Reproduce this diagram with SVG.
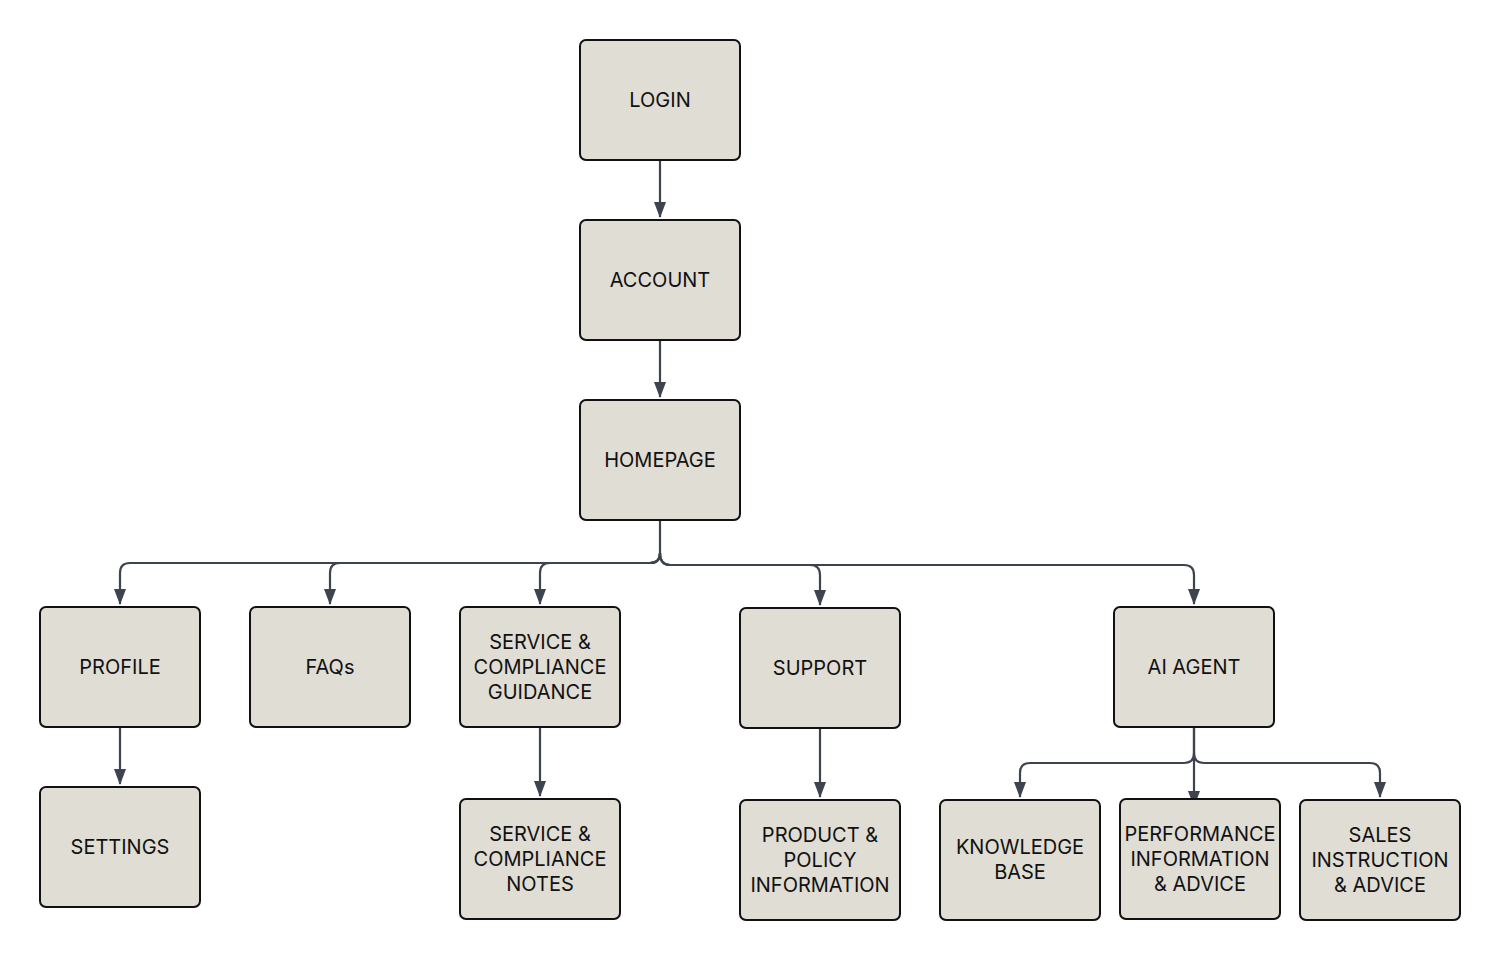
<svg xmlns="http://www.w3.org/2000/svg" width="1500" height="960" viewBox="0 0 1500 960">
<style>
.n rect{fill:#e0ddd4;stroke:#111;stroke-width:2}
.n text{font-family:Inter,"Liberation Sans",sans-serif;font-size:20px;fill:#111;text-anchor:middle;dominant-baseline:central}
.c path{fill:none;stroke:#3d4450;stroke-width:2.2}
</style>
<defs>
<marker id="a" viewBox="0 0 16 12" refX="15" refY="6" markerWidth="16" markerHeight="12" markerUnits="userSpaceOnUse" orient="auto">
<path d="M0,0 L16,6 L0,12 Z" fill="#3d4450"/>
</marker>
</defs>
<rect width="1500" height="960" fill="#fff"/>
<g class="c">
<path d="M660,160 V217" marker-end="url(#a)"/>
<path d="M660,340 V397" marker-end="url(#a)"/>
<path d="M660,520 V553 Q660,563 650,563 H130 Q120,563 120,573 V604" marker-end="url(#a)"/>
<path d="M660,553 Q660,563 650,563 H340 Q330,563 330,573 V604" marker-end="url(#a)"/>
<path d="M660,553 Q660,563 650,563 H550 Q540,563 540,573 V604" marker-end="url(#a)"/>
<path d="M660,553 Q660,565 670,565 H810 Q820,565 820,575 V605" marker-end="url(#a)"/>
<path d="M660,553 Q660,565 670,565 H1184 Q1194,565 1194,575 V604" marker-end="url(#a)"/>
<path d="M120,727 V784" marker-end="url(#a)"/>
<path d="M540,727 V796" marker-end="url(#a)"/>
<path d="M820,728 V797" marker-end="url(#a)"/>
<path d="M1194,727 V753 Q1194,763 1184,763 H1030 Q1020,763 1020,773 V797" marker-end="url(#a)"/>
<path d="M1194,727 V806" marker-end="url(#a)"/>
<path d="M1194,753 Q1194,763 1204,763 H1370 Q1380,763 1380,773 V797" marker-end="url(#a)"/>
</g>
<g id="login" class="n"><rect x="580" y="40" width="160" height="120" rx="6"/><text x="660" y="100">LOGIN</text></g>
<g id="account" class="n"><rect x="580" y="220" width="160" height="120" rx="6"/><text x="660" y="280">ACCOUNT</text></g>
<g id="homepage" class="n"><rect x="580" y="400" width="160" height="120" rx="6"/><text x="660" y="460">HOMEPAGE</text></g>
<g id="profile" class="n"><rect x="40" y="607" width="160" height="120" rx="6"/><text x="120" y="667">PROFILE</text></g>
<g id="faqs" class="n"><rect x="250" y="607" width="160" height="120" rx="6"/><text x="330" y="667">FAQs</text></g>
<g id="scguidance" class="n"><rect x="460" y="607" width="160" height="120" rx="6"/><text x="540" y="642">SERVICE &amp;</text><text x="540" y="667">COMPLIANCE</text><text x="540" y="692">GUIDANCE</text></g>
<g id="support" class="n"><rect x="740" y="608" width="160" height="120" rx="6"/><text x="820" y="668">SUPPORT</text></g>
<g id="aiagent" class="n"><rect x="1114" y="607" width="160" height="120" rx="6"/><text x="1194" y="667">AI AGENT</text></g>
<g id="settings" class="n"><rect x="40" y="787" width="160" height="120" rx="6"/><text x="120" y="847">SETTINGS</text></g>
<g id="scnotes" class="n"><rect x="460" y="799" width="160" height="120" rx="6"/><text x="540" y="834">SERVICE &amp;</text><text x="540" y="859">COMPLIANCE</text><text x="540" y="884">NOTES</text></g>
<g id="product" class="n"><rect x="740" y="800" width="160" height="120" rx="6"/><text x="820" y="835">PRODUCT &amp;</text><text x="820" y="860">POLICY</text><text x="820" y="885">INFORMATION</text></g>
<g id="kb" class="n"><rect x="940" y="800" width="160" height="120" rx="6"/><text x="1020" y="847">KNOWLEDGE</text><text x="1020" y="872">BASE</text></g>
<g id="performance" class="n"><rect x="1120" y="799" width="160" height="120" rx="6"/><text x="1200" y="834">PERFORMANCE</text><text x="1200" y="859">INFORMATION</text><text x="1200" y="884">&amp; ADVICE</text></g>
<g id="sales" class="n"><rect x="1300" y="800" width="160" height="120" rx="6"/><text x="1380" y="835">SALES</text><text x="1380" y="860">INSTRUCTION</text><text x="1380" y="885">&amp; ADVICE</text></g>
</svg>
